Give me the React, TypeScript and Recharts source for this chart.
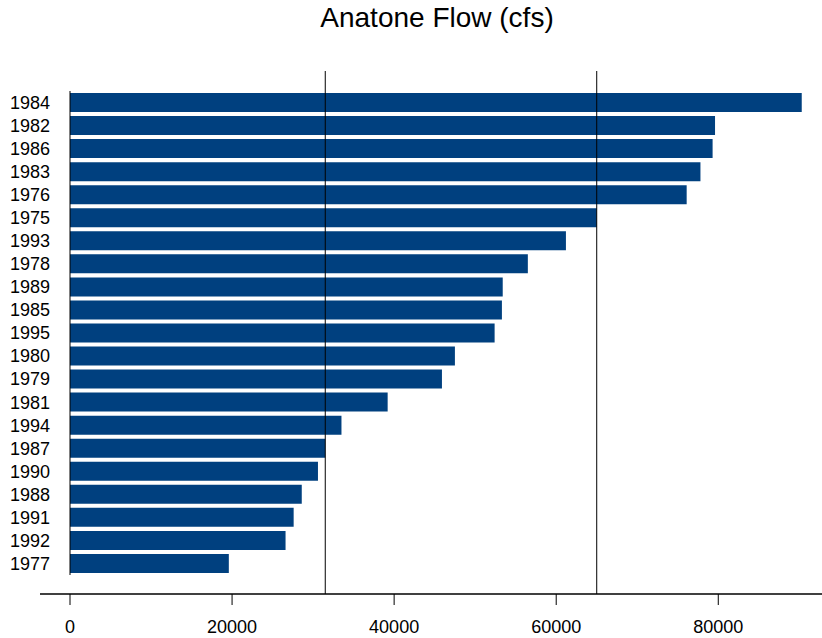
import React from "react";
import { BarChart, Bar, XAxis, YAxis, ReferenceLine } from "recharts";

const years = ["1984","1982","1986","1983","1976","1975","1993","1978","1989","1985","1995","1980","1979","1981","1994","1987","1990","1988","1991","1992","1977"];
const flows = [90300, 79600, 79300, 77800, 76100, 65000, 61200, 56500, 53400, 53300, 52400, 47500, 45900, 39200, 33500, 31500, 30600, 28600, 27600, 26600, 19600];
const xTicks = [0, 20000, 40000, 60000, 80000];
const referenceValues = [31500, 65000];
const title = "Anatone Flow (cfs)";

const data = years.map((y, i) => ({ year: y, flow: flows[i] }));

const FONT = "'Liberation Sans', Arial, Helvetica, sans-serif";

const YTick = (props: any) => {
  const { x, y, payload } = props;
  return (
    <text x={x + 10} y={y} dy="0.355em" textAnchor="end" fontSize={18} fontFamily={FONT} fill="#000">
      {payload.value}
    </text>
  );
};

export default function App() {
  return (
    <div style={{ position: "absolute", left: 0, top: 0, width: 822, height: 638, background: "#fff" }}>
      <svg width={822} height={50} style={{ position: "absolute", left: 0, top: 0 }}>
        <text x={437} y={27.3} textAnchor="middle" fontSize={28} fontFamily={FONT} fill="#000">
          {title}
        </text>
      </svg>
      <div style={{ position: "absolute", left: 0, top: 0 }}>
        <BarChart
          width={822}
          height={638}
          data={data}
          layout="vertical"
          margin={{ top: 71, right: 0, bottom: 0, left: 0 }}
        >
          <XAxis
            type="number"
            dataKey="flow"
            domain={[0, 92800]}
            ticks={xTicks}
            padding={{ left: 30, right: 0 }}
            height={44}
            tickSize={11}
            tickMargin={15}
            axisLine={{ stroke: "#000", strokeWidth: 1.5 }}
            tickLine={{ stroke: "#000", strokeWidth: 1 }}
            tick={{ fontSize: 18, fontFamily: FONT, fill: "#000" }}
            allowDataOverflow
          />
          <YAxis
            type="category"
            dataKey="year"
            width={40}
            axisLine={false}
            tickLine={false}
            tickSize={0}
            tickMargin={0}
            interval={0}
            padding={{ top: 20, bottom: 19 }}
            tick={<YTick />}
          />
          <Bar dataKey="flow" fill="#00407F" barSize={19} isAnimationActive={false} />
          <ReferenceLine x={0} stroke="#000" strokeWidth={1} strokeDasharray="0 19 484 1000" />
          {referenceValues.map((v) => (
            <ReferenceLine key={v} x={v} stroke="#000" strokeWidth={1} />
          ))}
        </BarChart>
      </div>
    </div>
  );
}
